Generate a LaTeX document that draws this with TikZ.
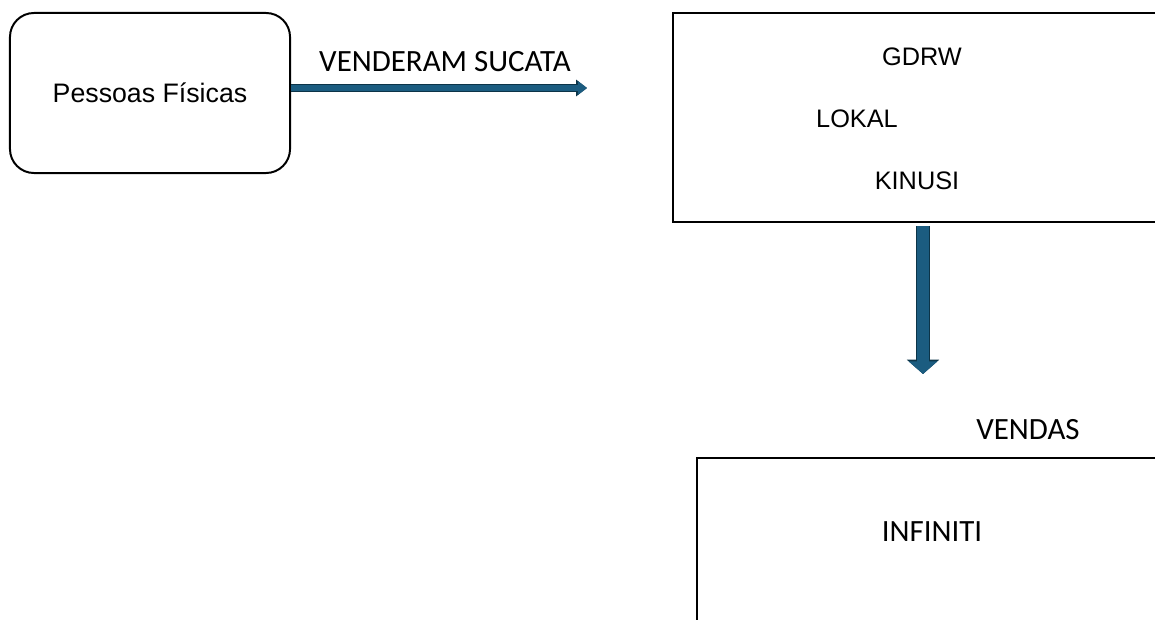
\documentclass[tikz,border=0pt]{standalone}
\usepackage{fontspec}
\setmainfont{Liberation Sans}
\newfontfamily\calibrifont{Carlito}
\usetikzlibrary{arrows.meta}
\definecolor{arrowfill}{HTML}{1B5C80}
\definecolor{arrowdark}{HTML}{0C3448}

\begin{document}
\begin{tikzpicture}[
  x=0.025cm,
  y=-0.025cm,
  box/.style={
    draw,
    line width=1.4pt,
    inner sep=0pt
  },
  roundbox/.style={
    box,
    rounded corners=0.6cm,
    minimum width=7cm,
    minimum height=4cm
  },
  arialtext/.style={
    inner sep=0pt,
    font=\fontsize{18}{20}\selectfont
  },
  calibritext/.style={
    inner sep=0pt,
    font=\calibrifont\fontsize{22}{24}\selectfont
  },
  thinflow/.style={
    draw=arrowfill,
    line width=4.3pt,
    -{Triangle[length=6.5pt,width=9.5pt]},
    preaction={
      draw=arrowdark,
      line width=5.8pt,
      -{Triangle[length=7.8pt,width=11.5pt]}
    }
  },
  thickflow/.style={
    draw=arrowfill,
    line width=8pt,
    -{Triangle[length=9pt,width=20pt]},
    preaction={
      draw=arrowdark,
      line width=9.6pt,
      -{Triangle[length=10.2pt,width=22.5pt]}
    }
  }
]

\path[use as bounding box] (0,0) rectangle (1155,619);
\clip (0,0) rectangle (1155,619);

\node[roundbox, arialtext, font=\fontsize{19}{21}\selectfont] (pf) at (150,93) {Pessoas Físicas};
\node[box, minimum width=12.675cm, minimum height=5.225cm] (compr) at (926.5,117.5) {};
\node[box, minimum width=12.075cm, minimum height=5.05cm] (revenda) at (938.5,559) {};

\node[arialtext] (gdrw) at (922,57) {GDRW};
\node[arialtext] (lokal) at (857,119) {LOKAL};
\node[arialtext] (kinusi) at (917,181) {KINUSI};
\node[calibritext] (infiniti) at (932,532) {INFINITI};

\node[calibritext] (sucata) at (445,62) {VENDERAM SUCATA};
\node[calibritext] (vendas) at (1028,430) {VENDAS};

\coordinate (sucend) at (587,88);
\coordinate (vendend) at (923,374);

\draw[thinflow] (pf.east |- sucend) -- (sucend);
\draw[thickflow] (compr.south -| vendend) ++(0,3) -- (vendend);

\end{tikzpicture}
\end{document}
